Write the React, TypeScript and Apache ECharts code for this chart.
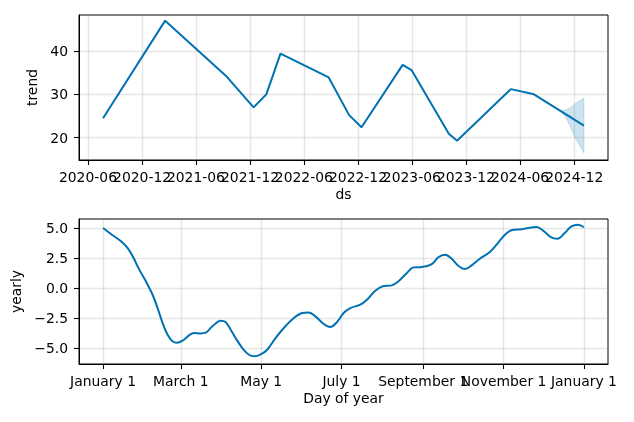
import React, { useEffect, useRef } from 'react';
import * as echarts from 'echarts';

// ---- Trend component ----
const trendDates = [
  '2020-07-22', '2021-02-17', '2021-09-10', '2021-12-13', '2022-01-25', '2022-03-14',
  '2022-08-24', '2022-11-01', '2022-12-13', '2023-05-01', '2023-05-31', '2023-10-04',
  '2023-11-01', '2024-05-01', '2024-07-18', '2025-01-03',
];
const trendValues = [
  24.5, 47.0, 34.3, 27.0, 30.0, 39.4,
  33.9, 25.2, 22.4, 36.8, 35.6, 20.9,
  19.3, 31.2, 30.0, 22.8,
];
const bandDates = ['2024-10-16', '2024-11-01', '2024-11-18', '2024-12-05', '2024-12-22', '2025-01-03'];
const bandLower = [26.2, 24.9, 22.6, 19.9, 17.9, 16.5];
const bandUpper = [26.2, 26.35, 26.9, 27.85, 28.7, 29.1];
const trendTickLabels = [
  '2020-06', '2020-12', '2021-06', '2021-12', '2022-06',
  '2022-12', '2023-06', '2023-12', '2024-06', '2024-12',
];
const trendYTicks = [20, 30, 40];

// ---- Yearly component ----
const yearlyDays = [
  0, 6, 13.6, 18.7, 22.5, 27.5, 32.5, 37.6, 41.4, 45.2, 49, 52.7, 56, 60.3, 65.3, 69.1,
  74.2, 78, 83, 89.3, 93, 96.9, 100.6, 105.7, 110.7, 115.3, 120, 124.6, 130.9, 137.2,
  144.8, 151.1, 156.1, 161.2, 167.5, 172.5, 177.6, 182.6, 187.7, 195.2, 200.3, 206.6,
  212.9, 219.2, 224.2, 230.6, 235.6, 241.9, 249.5, 254.5, 259.6, 264.6, 269.6, 274.7,
  279.8, 286, 293.6, 298.7, 305, 310, 317.6, 322.6, 329, 334, 339.8, 344.9, 350.4,
  355.5, 360.5, 365,
];
const yearlyValues = [
  5.0, 4.5, 3.9, 3.33, 2.64, 1.53, 0.56, -0.56, -1.67, -2.92, -3.9, -4.44, -4.56, -4.39, -3.94, -3.75,
  -3.78, -3.72, -3.19, -2.72, -2.83, -3.47, -4.17, -5.0, -5.56, -5.69, -5.5, -5.14, -4.17, -3.33,
  -2.5, -2.08, -2.03, -2.36, -3.0, -3.25, -2.83, -2.08, -1.67, -1.39, -0.97, -0.22,
  0.17, 0.22, 0.56, 1.25, 1.72, 1.75, 2.0, 2.56, 2.78, 2.44, 1.86, 1.58,
  1.89, 2.44, 3.0, 3.61, 4.44, 4.81, 4.89, 5.0, 5.08, 4.78, 4.25, 4.11, 4.58,
  5.14, 5.28, 5.06,
];
const yearlyTickDays = [0, 59, 120, 181, 243, 304, 365];
const yearlyTickLabels = ['January 1', 'March 1', 'May 1', 'July 1', 'September 1', 'November 1', 'January 1'];
const yearlyYTicks = [-5, -2.5, 0, 2.5, 5];

const ts = (s: string) => Date.parse((s.length === 7 ? s + '-01' : s) + 'T00:00:00Z');

const FONT = 'DejaVu Sans';
const FS = 13.9;
const BLUE = '#0072B2';
const BAND = 'rgba(0,114,178,0.2)';
const GRIDC = 'rgba(128,128,128,0.2)';

export default function App() {
  const ref = useRef<HTMLDivElement>(null);
  useEffect(() => {
    if (!ref.current) return;
    const chart = echarts.init(ref.current, undefined, { renderer: 'svg' });
    const text = { color: '#000', fontFamily: FONT, fontSize: FS };
    const xTicks = trendTickLabels.map(ts);
    const xTicksEven = xTicks.filter((_, i) => i % 2 === 0);
    const xTicksOdd = xTicks.filter((_, i) => i % 2 === 1);
    const t0 = ts(trendDates[0]);
    const t1 = ts(trendDates[trendDates.length - 1]);
    const pad = (t1 - t0) * 0.05;
    const dEnd = yearlyTickDays[yearlyTickDays.length - 1];
    const dPad = (dEnd - yearlyTickDays[0]) * 0.05;
    const tick = { show: true, length: 5, inside: false, lineStyle: { color: '#000', width: 1.1 } };
    const split = { show: true, lineStyle: { color: GRIDC, width: 1.4 } };
    const axLine = { show: true, onZero: false, lineStyle: { color: '#000', width: 1 } };
    const fmtY = (v: number) => (v < 0 ? '\u2212' : '') + Math.abs(v).toFixed(1);
    const labelBase = { ...text, margin: 10, hideOverlap: false, showMinLabel: true, showMaxLabel: true };
    const fmtTrendX = (v: number) => {
      const i = xTicks.indexOf(v);
      return i >= 0 ? trendTickLabels[i] : '';
    };

    chart.setOption({
      animation: false,
      grid: [
        { left: 79, top: 15, width: 529, height: 145, show: true, borderColor: '#000', borderWidth: 1, backgroundColor: 'transparent' },
        { left: 79, top: 219, width: 529, height: 145, show: true, borderColor: '#000', borderWidth: 1, backgroundColor: 'transparent' },
      ],
      xAxis: [
        {
          type: 'value', gridIndex: 0, position: 'bottom', min: t0 - pad, max: t1 + pad,
          name: 'ds', nameLocation: 'middle', nameGap: 27, nameTextStyle: text,
          axisLine: axLine,
          axisTick: { ...tick, customValues: xTicks },
          axisLabel: { ...labelBase, customValues: xTicksEven, formatter: fmtTrendX },
          splitLine: { ...split },
        },
        {
          type: 'value', gridIndex: 1, position: 'bottom', min: yearlyTickDays[0] - dPad, max: dEnd + dPad,
          name: 'Day of year', nameLocation: 'middle', nameGap: 27, nameTextStyle: text,
          axisLine: axLine,
          axisTick: { ...tick, customValues: yearlyTickDays },
          axisLabel: {
            ...labelBase, customValues: yearlyTickDays,
            formatter: (v: number) => {
              const i = yearlyTickDays.indexOf(v);
              return i >= 0 ? yearlyTickLabels[i] : '';
            },
          },
          splitLine: split,
        },
        {
          type: 'value', gridIndex: 0, position: 'bottom', offset: 0, min: t0 - pad, max: t1 + pad,
          axisLine: { show: false, onZero: false },
          axisTick: { show: false },
          axisLabel: { ...labelBase, customValues: xTicksOdd, formatter: fmtTrendX },
          splitLine: { show: false },
        },
      ],
      yAxis: [
        {
          type: 'value', gridIndex: 0, min: 14.85, max: 48.3,
          name: 'trend', nameLocation: 'middle', nameGap: 30, nameTextStyle: text,
          axisLine: axLine,
          axisTick: { ...tick, customValues: trendYTicks },
          axisLabel: { ...labelBase, margin: 11, customValues: trendYTicks, formatter: (v: number) => String(v) },
          splitLine: split,
        },
        {
          type: 'value', gridIndex: 1, min: -6.33, max: 5.75,
          name: 'yearly', nameLocation: 'middle', nameGap: 46, nameTextStyle: text,
          axisLine: axLine,
          axisTick: { ...tick, customValues: yearlyYTicks },
          axisLabel: { ...labelBase, margin: 11, customValues: yearlyYTicks, formatter: fmtY },
          splitLine: split,
        },
      ],
      series: [
        {
          type: 'line', xAxisIndex: 0, yAxisIndex: 0, showSymbol: false, silent: true,
          data: trendDates.map((d, i) => [ts(d), trendValues[i]]),
          lineStyle: { color: BLUE, width: 2 }, z: 3,
        },
        {
          type: 'custom', xAxisIndex: 0, yAxisIndex: 0, silent: true, z: 4,
          data: bandDates.map((d, i) => [ts(d), bandLower[i], bandUpper[i]]),
          encode: { x: 0, y: [1, 2] },
          renderItem: (params: any, api: any) => {
            if (params.dataIndex !== 0) return { type: 'group', children: [] };
            const up = bandDates.map((d, i) => api.coord([ts(d), bandUpper[i]]));
            const lo = bandDates.map((d, i) => api.coord([ts(d), bandLower[i]])).reverse();
            return {
              type: 'polygon',
              shape: { points: up.concat(lo) },
              style: { fill: BAND, stroke: BAND, lineWidth: 1 },
            };
          },
        },
        {
          type: 'line', xAxisIndex: 1, yAxisIndex: 1, showSymbol: false, silent: true, smooth: 0.35,
          data: yearlyDays.map((d, i) => [d, yearlyValues[i]]),
          lineStyle: { color: BLUE, width: 2 },
        },
      ],
    });
    return () => chart.dispose();
  }, []);
  return <div ref={ref} style={{ position: 'fixed', left: 0, top: 0, width: 634, height: 422 }} />;
}
